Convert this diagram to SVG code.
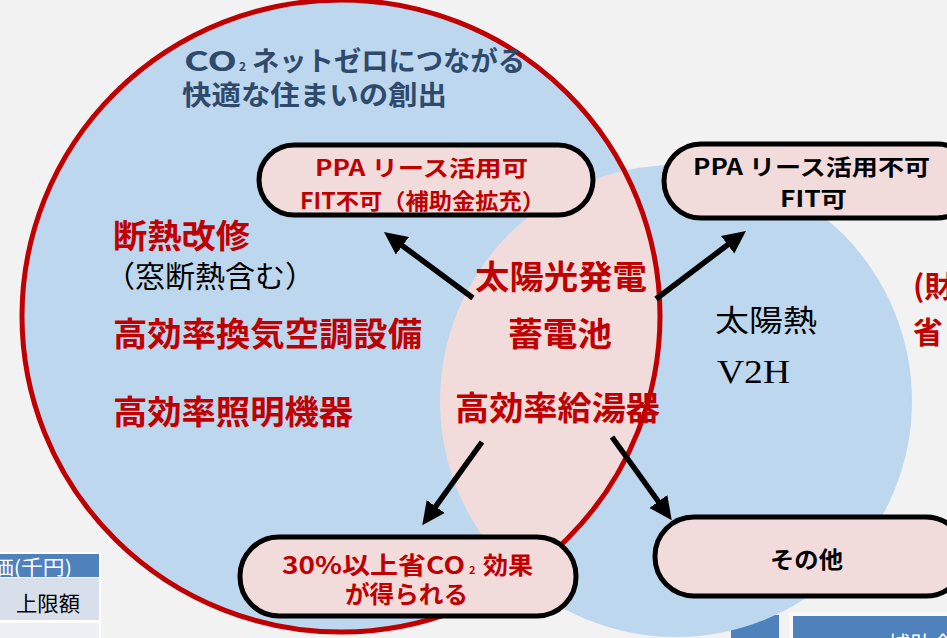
<svg xmlns="http://www.w3.org/2000/svg" width="947" height="638" viewBox="0 0 947 638">
<defs>
<style>
.sans{font-family:'Noto Sans CJK JP','Noto Sans',sans-serif;}
.serif{font-family:'Liberation Serif','Noto Sans CJK JP',serif;}
.b{font-weight:bold;}
.red{fill:#C00000;}
.blk{fill:#000;}
.ttl{fill:#2F4A6B;font-weight:bold;font-size:27px;}
.big{font-size:33px;font-weight:bold;fill:#C00000;}
.box{fill:#F2DCDB;stroke:#000;stroke-width:5;}
.arr{stroke:#000;stroke-width:5.5;fill:none;marker-end:url(#ah);}
</style>
<marker id="ah" markerUnits="userSpaceOnUse" markerWidth="24" markerHeight="24" viewBox="0 0 24 24" refX="8" refY="12" orient="auto">
<path d="M0,1 L23,12 L0,23 z" fill="#000"/>
</marker>
<clipPath id="leftClip"><ellipse cx="341" cy="316" rx="319" ry="316"/></clipPath>
</defs>

<rect x="0" y="0" width="947" height="638" fill="#F2F2F2"/>

<g id="table-left">
<rect x="0" y="552" width="101" height="90" fill="#FFFFFF"/>
<rect x="0" y="554" width="99" height="23" fill="#4F81BD"/>
<text x="-8" y="575" class="sans" font-size="20" fill="#FFFFFF" textLength="80" lengthAdjust="spacingAndGlyphs">価(千円)</text>
<rect x="0" y="578" width="99" height="42" fill="#D9DFEA"/>
<text x="16" y="611" class="sans" font-size="21" fill="#000" textLength="64" lengthAdjust="spacingAndGlyphs">上限額</text>
<rect x="0" y="623" width="99" height="20" fill="#EDF0F5"/>
</g>

<g id="table-right">
<rect x="731" y="615" width="48" height="30" fill="#4F81BD"/>
<rect x="789" y="612" width="170" height="30" fill="#FFFFFF" opacity="0.6"/>
<rect x="793" y="616" width="160" height="30" fill="#4F81BD"/>
<text x="888" y="652" class="sans" font-size="22" fill="#FFFFFF">補助金</text>
</g>

<g id="venn">
<ellipse id="circle-left" cx="341" cy="316" rx="319" ry="316" fill="#BDD7EE"/>
<circle id="circle-right" cx="676" cy="401" r="236" fill="#BDD7EE"/>
<circle id="overlap" cx="676" cy="401" r="236" fill="#F2DCDB" clip-path="url(#leftClip)"/>
<ellipse id="circle-left-outline" cx="341" cy="316" rx="319" ry="316" fill="none" stroke="#C00000" stroke-width="5"/>
</g>

<g id="title">
<text x="184" y="71" class="sans ttl" textLength="53" lengthAdjust="spacingAndGlyphs">CO</text>
<text x="239" y="71" class="sans ttl" font-size="12" style="font-size:12px">2</text>
<text x="252" y="71" class="sans ttl" textLength="273" lengthAdjust="spacingAndGlyphs">ネットゼロにつながる</text>
<text x="182" y="105" class="sans ttl" textLength="265" lengthAdjust="spacingAndGlyphs">快適な住まいの創出</text>
</g>

<g id="left-items">
<text x="113" y="248" class="sans big" textLength="137" lengthAdjust="spacingAndGlyphs">断熱改修</text>
<text x="105" y="287" class="serif blk" font-size="30" textLength="210" lengthAdjust="spacingAndGlyphs">（窓断熱含む）</text>
<text x="113" y="346" class="sans big" textLength="309" lengthAdjust="spacingAndGlyphs">高効率換気空調設備</text>
<text x="113" y="424" class="sans big" textLength="240" lengthAdjust="spacingAndGlyphs">高効率照明機器</text>
</g>

<g id="center-items">
<text x="475" y="289" class="sans big" textLength="172" lengthAdjust="spacingAndGlyphs">太陽光発電</text>
<text x="508" y="346" class="sans big" textLength="104" lengthAdjust="spacingAndGlyphs">蓄電池</text>
<text x="455" y="420" class="sans big" textLength="205" lengthAdjust="spacingAndGlyphs">高効率給湯器</text>
</g>

<g id="right-items">
<text x="715" y="331" class="serif blk" font-size="30" textLength="102" lengthAdjust="spacingAndGlyphs">太陽熱</text>
<text x="717" y="383" class="serif blk" font-size="33" textLength="73" lengthAdjust="spacingAndGlyphs">V2H</text>
<text x="913" y="297" class="sans b red" font-size="30">(財</text>
<text x="913" y="343" class="sans b red" font-size="30">省</text>
</g>

<g id="box-ppa-yes">
<rect x="259" y="145" width="334" height="70" rx="35" class="box"/>
<text x="315" y="176" class="sans b red" font-size="22" textLength="213" lengthAdjust="spacingAndGlyphs">PPA リース活用可</text>
<text x="300" y="209" class="sans b red" font-size="22" textLength="245" lengthAdjust="spacingAndGlyphs">FIT不可（補助金拡充）</text>
</g>

<g id="box-ppa-no">
<rect x="664" y="144" width="310" height="74" rx="37" class="box"/>
<text x="693" y="175" class="sans b blk" font-size="22" textLength="237" lengthAdjust="spacingAndGlyphs">PPA リース活用不可</text>
<text x="780" y="207" class="sans b blk" font-size="22" textLength="67" lengthAdjust="spacingAndGlyphs">FIT可</text>
</g>

<g id="box-co2">
<rect x="240" y="537" width="336" height="79" rx="39" class="box"/>
<text x="282" y="574" class="sans b red" font-size="24" textLength="183" lengthAdjust="spacingAndGlyphs">30%以上省CO</text>
<text x="469" y="574" class="sans b red" font-size="11">2</text>
<text x="483" y="574" class="sans b red" font-size="24" textLength="50" lengthAdjust="spacingAndGlyphs">効果</text>
<text x="345" y="603" class="sans b red" font-size="24" textLength="123" lengthAdjust="spacingAndGlyphs">が得られる</text>
</g>

<g id="box-other">
<rect x="655" y="517" width="310" height="79" rx="39" class="box"/>
<text x="770" y="568" class="sans b blk" font-size="23" textLength="73" lengthAdjust="spacingAndGlyphs">その他</text>
</g>

<g id="connectors">
<line x1="473" y1="298" x2="396" y2="241" class="arr"/>
<line x1="656" y1="299" x2="734" y2="240" class="arr"/>
<line x1="482" y1="442" x2="431" y2="513" class="arr"/>
<line x1="612" y1="437" x2="663" y2="508" class="arr"/>
</g>
</svg>
